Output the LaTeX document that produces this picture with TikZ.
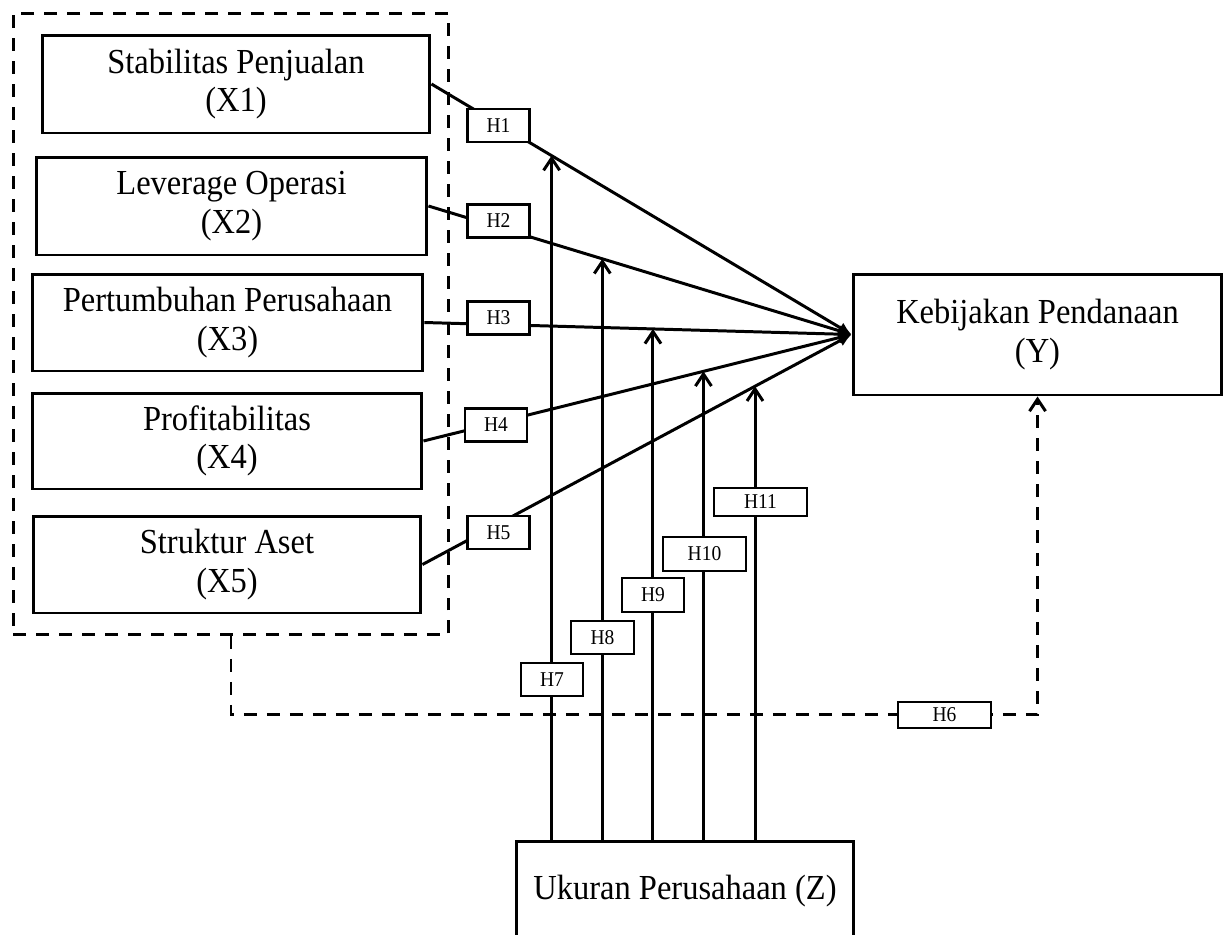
\documentclass[tikz,border=0pt]{standalone}
\usepackage{fontspec}
\setmainfont{Liberation Serif}[FakeStretch=0.925]
\usetikzlibrary{arrows.meta,calc,fit}

\tikzset{
  var/.style={draw, line width=1.7pt, align=center, inner sep=0pt,
    font=\fontsize{20}{22}\selectfont},
  hyp/.style={draw, fill=white, line width=1.6pt, inner sep=0pt,
    font=\fontsize{12}{13}\selectfont},
  link/.style={line width=1.7pt, -{Latex[length=0.26cm,width=0.24cm]}},
  modline/.style={line width=1.7pt, -{Straight Barb[length=0.24cm,width=0.32cm]}},
  dashln/.style={line width=1.7pt, dash pattern=on 0.26cm off 0.2cm}
}

\begin{document}
\begin{tikzpicture}[x=0.02cm, y=-0.02cm]
\clip (0,0) rectangle (1230,934);

% variabel independen
\node[var, minimum width=7.76cm, minimum height=1.96cm] (x1) at (236,84) {Stabilitas Penjualan\\(X1)};
\node[var, minimum width=7.82cm, minimum height=1.96cm] (x2) at (231.5,206) {Leverage Operasi\\(X2)};
\node[var, minimum width=7.82cm, minimum height=1.94cm] (x3) at (227.5,322.5) {Pertumbuhan Perusahaan\\(X3)};
\node[var, minimum width=7.80cm, minimum height=1.92cm] (x4) at (227,441) {Profitabilitas\\(X4)};
\node[var, minimum width=7.76cm, minimum height=1.94cm] (x5) at (227,564.5) {Struktur Aset\\(X5)};
\node[dashln, draw, inner xsep=0.35cm, inner ysep=0.4cm, fit=(x1)(x2)(x3)(x4)(x5)] (grp) {};

% dependen dan moderasi
\node[var, minimum width=7.38cm, minimum height=2.42cm] (y) at (1037.5,334.5) {Kebijakan Pendanaan\\(Y)};
\node[var, minimum width=6.76cm, minimum height=2.0cm] (z) at (685,891) {Ukuran Perusahaan (Z)};

% pengaruh langsung dan moderasi
\foreach \i/\t in {1/0.286, 2/0.411, 3/0.535, 4/0.654, 5/0.775} {
  \draw[link] (x\i.east) -- (y.west);
  \coordinate (m\i) at ($(x\i.east)!\t!(y.west)$);
}
\foreach \i in {1,...,5}
  \draw[modline] (m\i |- z.north) -- (m\i);

% pengaruh simultan
\draw[dashln, -{Straight Barb[length=0.24cm,width=0.32cm]}] (grp.south) -- ++(0,79) -| (y.south);

% label hipotesis
\foreach \n/\px/\py/\w/\h in {1/498.5/125.5/1.24/0.66, 2/498.5/221/1.24/0.66,
    3/498.5/318/1.24/0.66, 4/496/425/1.24/0.66, 5/498.5/532.5/1.24/0.66,
    6/944.5/715/1.86/0.52, 7/552/679.5/1.24/0.66, 8/602.5/637.5/1.26/0.66,
    9/653/595/1.24/0.68, 10/704.5/554/1.66/0.68, 11/760.5/502/1.86/0.56}
  \node[hyp, minimum width=\w cm, minimum height=\h cm] (h\n) at (\px,\py) {H\n};
\end{tikzpicture}
\end{document}
